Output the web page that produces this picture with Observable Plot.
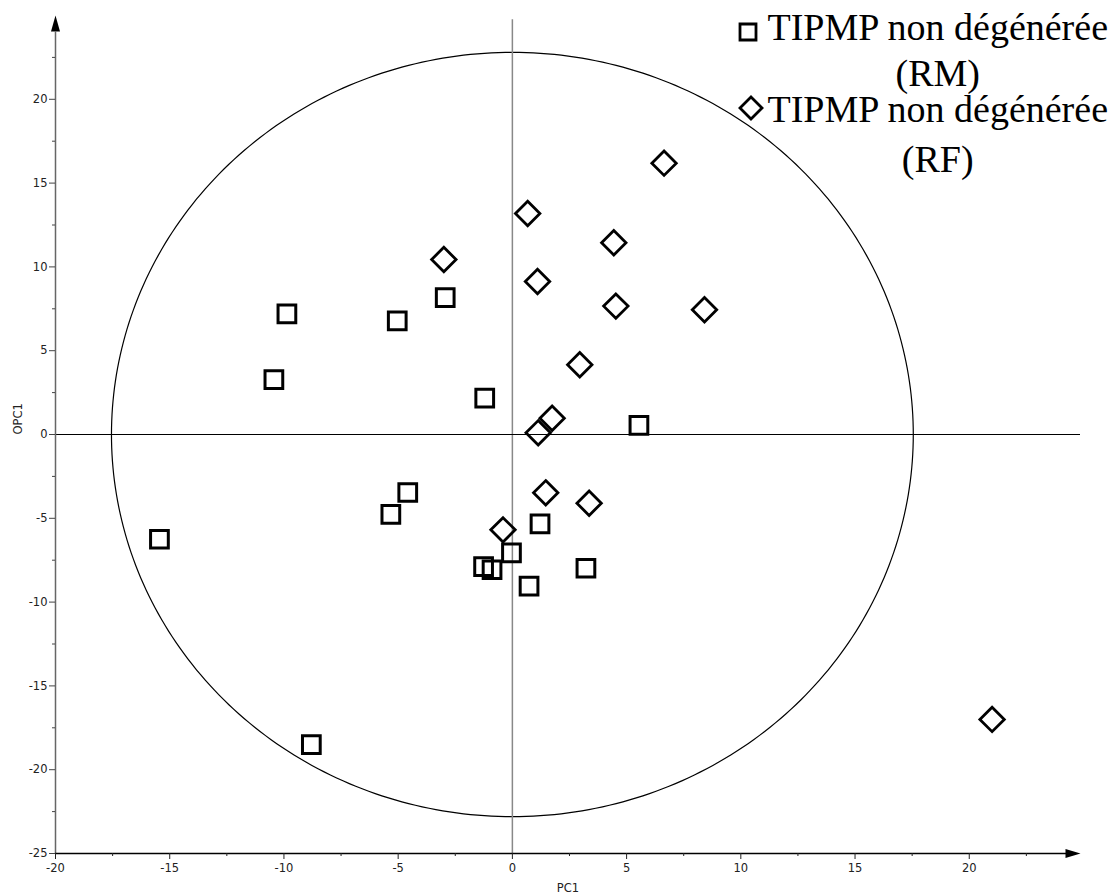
<!DOCTYPE html>
<html><head><meta charset="utf-8">
<script src="https://cdn.jsdelivr.net/npm/d3@7"></script>
<script src="https://cdn.jsdelivr.net/npm/@observablehq/plot@0.6"></script>
<style>
body{margin:0;background:#fff;}
#wrap{position:relative;width:1111px;height:892px;overflow:hidden;background:#fff;}
#legend{position:absolute;left:0;top:0;pointer-events:none;}
</style></head><body><div id="wrap"></div>
<script>
// Series: TIPMP non dégénérée (RM) — squares
const rmPC1  = [-9.87,-10.44,-5.04,-2.94,-1.21, 5.54,-15.45,-4.58,-5.32,-8.80, 1.21,-0.04,-1.26,-0.89, 0.73, 3.22];
const rmOPC1 = [ 7.20,  3.28, 6.78, 8.17, 2.17, 0.54, -6.25,-3.46,-4.77,-18.5,-5.33,-7.06,-7.88,-8.07,-9.05,-7.98];
// Series: TIPMP non dégénérée (RF) — diamonds
const rfPC1  = [-3.00, 0.67, 4.44, 1.10, 4.53, 8.41, 2.95, 1.74, 1.13, 1.46, 3.36,-0.41, 6.64, 21.0];
const rfOPC1 = [10.44,13.19,11.44, 9.13, 7.66, 7.44, 4.16, 0.97, 0.10,-3.48,-4.10,-5.69,16.19,-17.0];
// Legend labels
const seriesLines = [["TIPMP non dégénérée","(RM)"],["TIPMP non dégénérée","(RF)"]];
// Tick values
const xTicks = [-20,-15,-10,-5,0,5,10,15,20];
const xMinor = [-17.5,-12.5,-7.5,-2.5,2.5,7.5,12.5,17.5,22.5];
const yTicks = [-25,-20,-15,-10,-5,0,5,10,15,20];
const yMinor = [-22.5,-17.5,-12.5,-7.5,-2.5,2.5,7.5,12.5,17.5,22.5];
const xLabel = "PC1", yLabel = "OPC1";
// Hotelling ellipse radii
const ellipseRX = 17.55, ellipseRY = 22.8;

const xDomain = [-20, 24.87], yDomain = [-25, 25];

const rm = rmPC1.map((x,i)=>({pc1:x, opc1:rmOPC1[i]}));
const rf = rfPC1.map((x,i)=>({pc1:x, opc1:rfOPC1[i]}));
const ellipse = d3.range(0, 361, 1).map(a => ({x: ellipseRX*Math.cos(a*Math.PI/180), y: ellipseRY*Math.sin(a*Math.PI/180)}));

const arrowUp = {draw(ctx){ctx.moveTo(0,0);ctx.lineTo(-4.5,16);ctx.lineTo(4.5,16);ctx.closePath();}};
const arrowRight = {draw(ctx){ctx.moveTo(0,0);ctx.lineTo(-15,-4.5);ctx.lineTo(-15,4.5);ctx.closePath();}};

const tickFont = '"DejaVu Sans",Verdana,sans-serif';

const chart = Plot.plot({
  width: 1111, height: 892,
  marginLeft: 55, marginRight: 31, marginTop: 15, marginBottom: 39,
  x: {domain: xDomain},
  y: {domain: yDomain},
  style: {fontFamily: tickFont, fontSize: "11.5px", background: "white", color: "#222"},
  marks: [
    Plot.line(ellipse, {x: "x", y: "y", stroke: "black", strokeWidth: 1.2}),
    Plot.ruleX([0], {y1: yDomain[0], y2: 24.75, stroke: "#888", strokeWidth: 1.5}),
    Plot.ruleY([0], {stroke: "black", strokeWidth: 1.2}),
    Plot.ruleX([xDomain[0]], {y1: yDomain[0], y2: 24, stroke: "#666", strokeWidth: 1.5}),
    Plot.ruleY([yDomain[0]], {x1: xDomain[0], x2: 24.3, stroke: "black", strokeWidth: 1.5}),
    Plot.dot([0], {x: () => xDomain[0], y: () => yDomain[1], symbol: arrowUp, r: 5, fill: "black", stroke: "none"}),
    Plot.dot([0], {x: () => xDomain[1], y: () => yDomain[0], symbol: arrowRight, r: 5, fill: "black", stroke: "none"}),
    Plot.axisX({ticks: xTicks, tickSize: 6, tickPadding: 4, tickFormat: d => String(d), label: null, fontSize: 11.5, stroke: "#222"}),
    Plot.axisX({ticks: xMinor, tickSize: 3, tickFormat: () => "", label: null, stroke: "#222"}),
    Plot.axisY({ticks: yTicks, tickSize: 6, tickPadding: 2, tickFormat: d => String(d), label: null, fontSize: 11.5, stroke: "#444"}),
    Plot.axisY({ticks: yMinor, tickSize: 3, tickFormat: () => "", label: null, stroke: "#444"}),
    Plot.text([xLabel], {text: d => d, frameAnchor: "bottom", dy: 30, lineAnchor: "top", fontSize: 11.5, fill: "#222"}),
    Plot.text([yLabel], {text: d => d, frameAnchor: "left", dx: -37, rotate: -90, fontSize: 11.5, fill: "#222"}),
    Plot.dot(rm, {x: "pc1", y: "opc1", symbol: "square", r: 10, stroke: "black", strokeWidth: 3, fill: "none"}),
    Plot.dot(rf, {x: "pc1", y: "opc1", symbol: "diamond2", r: 11, stroke: "black", strokeWidth: 2.8, fill: "none"})
  ]
});
document.getElementById("wrap").appendChild(chart);

// Legend overlay
const leg = d3.select("#wrap").append("svg").attr("id","legend").attr("width",1111).attr("height",220);
const serif = '"Liberation Serif","Times New Roman",serif';
const fs = 38, textEnd = 1108;
const items = [
  {sym: d3.symbolSquare, size: 16*16, icon: [748,32], line1y: 40, line2y: 86, lines: seriesLines[0]},
  {sym: d3.symbolDiamond2, size: Math.pow(11/0.62625,2), icon: [751,108], line1y: 122, line2y: 172, lines: seriesLines[1]}
];
items.forEach(it => {
  leg.append("path").attr("d", d3.symbol(it.sym, it.size)())
    .attr("transform", `translate(${it.icon[0]},${it.icon[1]})`)
    .attr("fill","none").attr("stroke","black").attr("stroke-width",2.8);
  const t1 = leg.append("text").text(it.lines[0])
    .attr("font-family", serif).attr("font-size", fs).attr("text-anchor","end")
    .attr("x", textEnd).attr("y", it.line1y);
  const w = t1.node().getComputedTextLength();
  const cx = textEnd - w/2;
  leg.append("text").text(it.lines[1])
    .attr("font-family", serif).attr("font-size", fs).attr("text-anchor","middle")
    .attr("x", cx).attr("y", it.line2y);
});
</script>
</body></html>
